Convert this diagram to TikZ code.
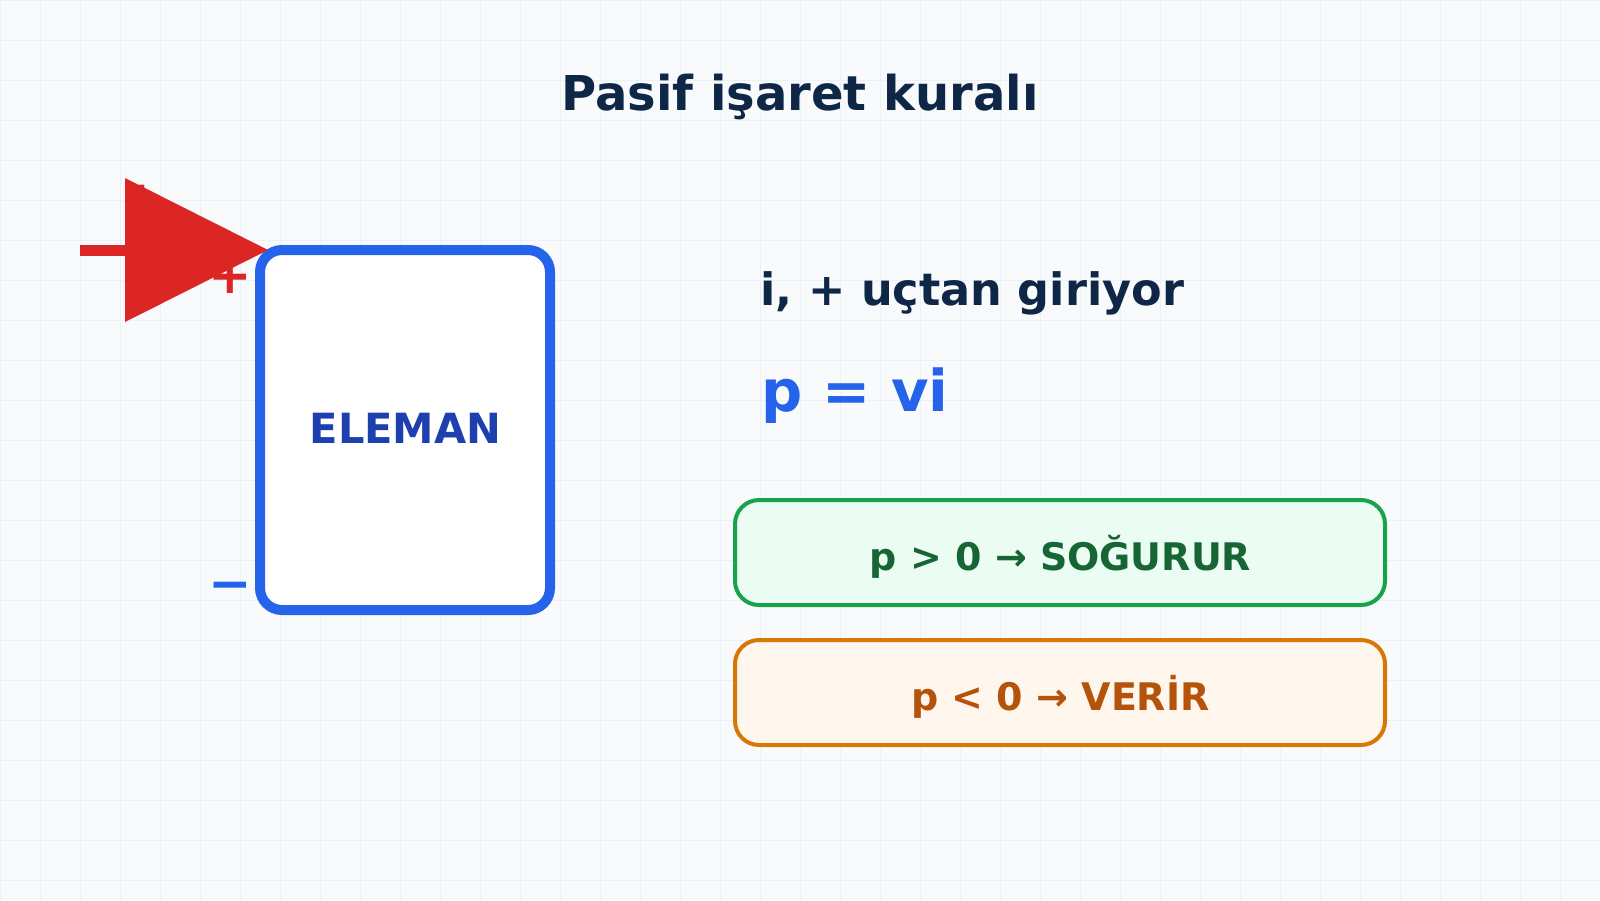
\documentclass[tikz,border=0pt]{standalone}
\usepackage{fontspec}
\setmainfont{DejaVu Sans}
\usetikzlibrary{calc}
\definecolor{bg}{HTML}{F8FAFC}
\definecolor{gridc}{HTML}{EBF1F9}
\definecolor{navy}{HTML}{0F2747}
\definecolor{elblue}{HTML}{1E40AF}
\definecolor{mblue}{HTML}{2563EB}
\definecolor{ired}{HTML}{DC2626}
\definecolor{gstroke}{HTML}{16A34A}
\definecolor{gfill}{HTML}{EBFCF2}
\definecolor{gtext}{HTML}{166534}
\definecolor{ostroke}{HTML}{D97706}
\definecolor{ofill}{HTML}{FFF6ED}
\definecolor{otext}{HTML}{B45309}
\tikzset{
  txt/.style={inner sep=0pt, font=\bfseries},
  rulebox/.style={line width=2pt, rounded corners=12pt},
}
\begin{document}
\begin{tikzpicture}[x=0.5pt,y=-0.5pt]
\useasboundingbox (0,0) rectangle (1600,900);
\fill[bg] (0,0) rectangle (1600,900);
\foreach \i in {0,40,...,1600} \draw[gridc, line width=0.5pt] (\i,0) -- (\i,900);
\foreach \j in {0,40,...,900} \draw[gridc, line width=0.5pt] (0,\j) -- (1600,\j);

% title
\node[txt, text=navy, anchor=base, font=\bfseries\fontsize{24pt}{28pt}\selectfont] (title) at (800,110) {Pasif işaret kuralı};

% element box
\node[draw=mblue, fill=white, line width=5pt, rounded corners=11pt, minimum width=145pt, minimum height=180pt, inner sep=0pt] (elem) at (405,430) {};
\node[txt, text=elblue, anchor=base, font=\bfseries\fontsize{20.8pt}{24pt}\selectfont] (elab) at (405.5,443) {ELEMAN};

% polarity signs
\node[txt, text=ired, font=\bfseries\fontsize{26pt}{30pt}\selectfont] (plus) at (230,277) {+};
\node[txt, text=mblue, font=\bfseries\fontsize{26pt}{30pt}\selectfont] (minus) at (230,592) {−};

% current arrow
\node[txt, text=ired, anchor=base, font=\bfseries\fontsize{16pt}{18pt}\selectfont] (ilab) at (142,209) {i};
\coordinate (istart) at (80,250);
\coordinate (ibase) at (126,250);
\coordinate (itip) at (268,250);
\draw[ired, line width=5.5pt] (istart) -- (ibase);
\fill[ired] (125,178) -- (itip) -- (125,322) -- cycle;

% right side texts
\node[txt, text=navy, anchor=base west, font=\bfseries\fontsize{22.3pt}{26pt}\selectfont] (enter) at (760,305) {i, + uçtan giriyor};
\node[txt, text=mblue, anchor=base west, font=\bfseries\fontsize{28.8pt}{32pt}\selectfont] (pvi) at (761,411) {p = vi};

% rule boxes
\node[rulebox, draw=gstroke, fill=gfill, minimum width=325pt, minimum height=52.5pt, inner sep=0pt] (absorb) at (1060,552.5) {};
\node[txt, text=gtext, anchor=base, font=\bfseries\fontsize{19pt}{22pt}\selectfont] (abslab) at (1060.5,570) {p > 0 → SOĞURUR};
\node[rulebox, draw=ostroke, fill=ofill, minimum width=325pt, minimum height=52.5pt, inner sep=0pt] (deliver) at (1060,692.5) {};
\node[txt, text=otext, anchor=base, font=\bfseries\fontsize{19pt}{22pt}\selectfont] (dellab) at (1060.5,710) {p < 0 → VERİR};
\end{tikzpicture}
\end{document}
